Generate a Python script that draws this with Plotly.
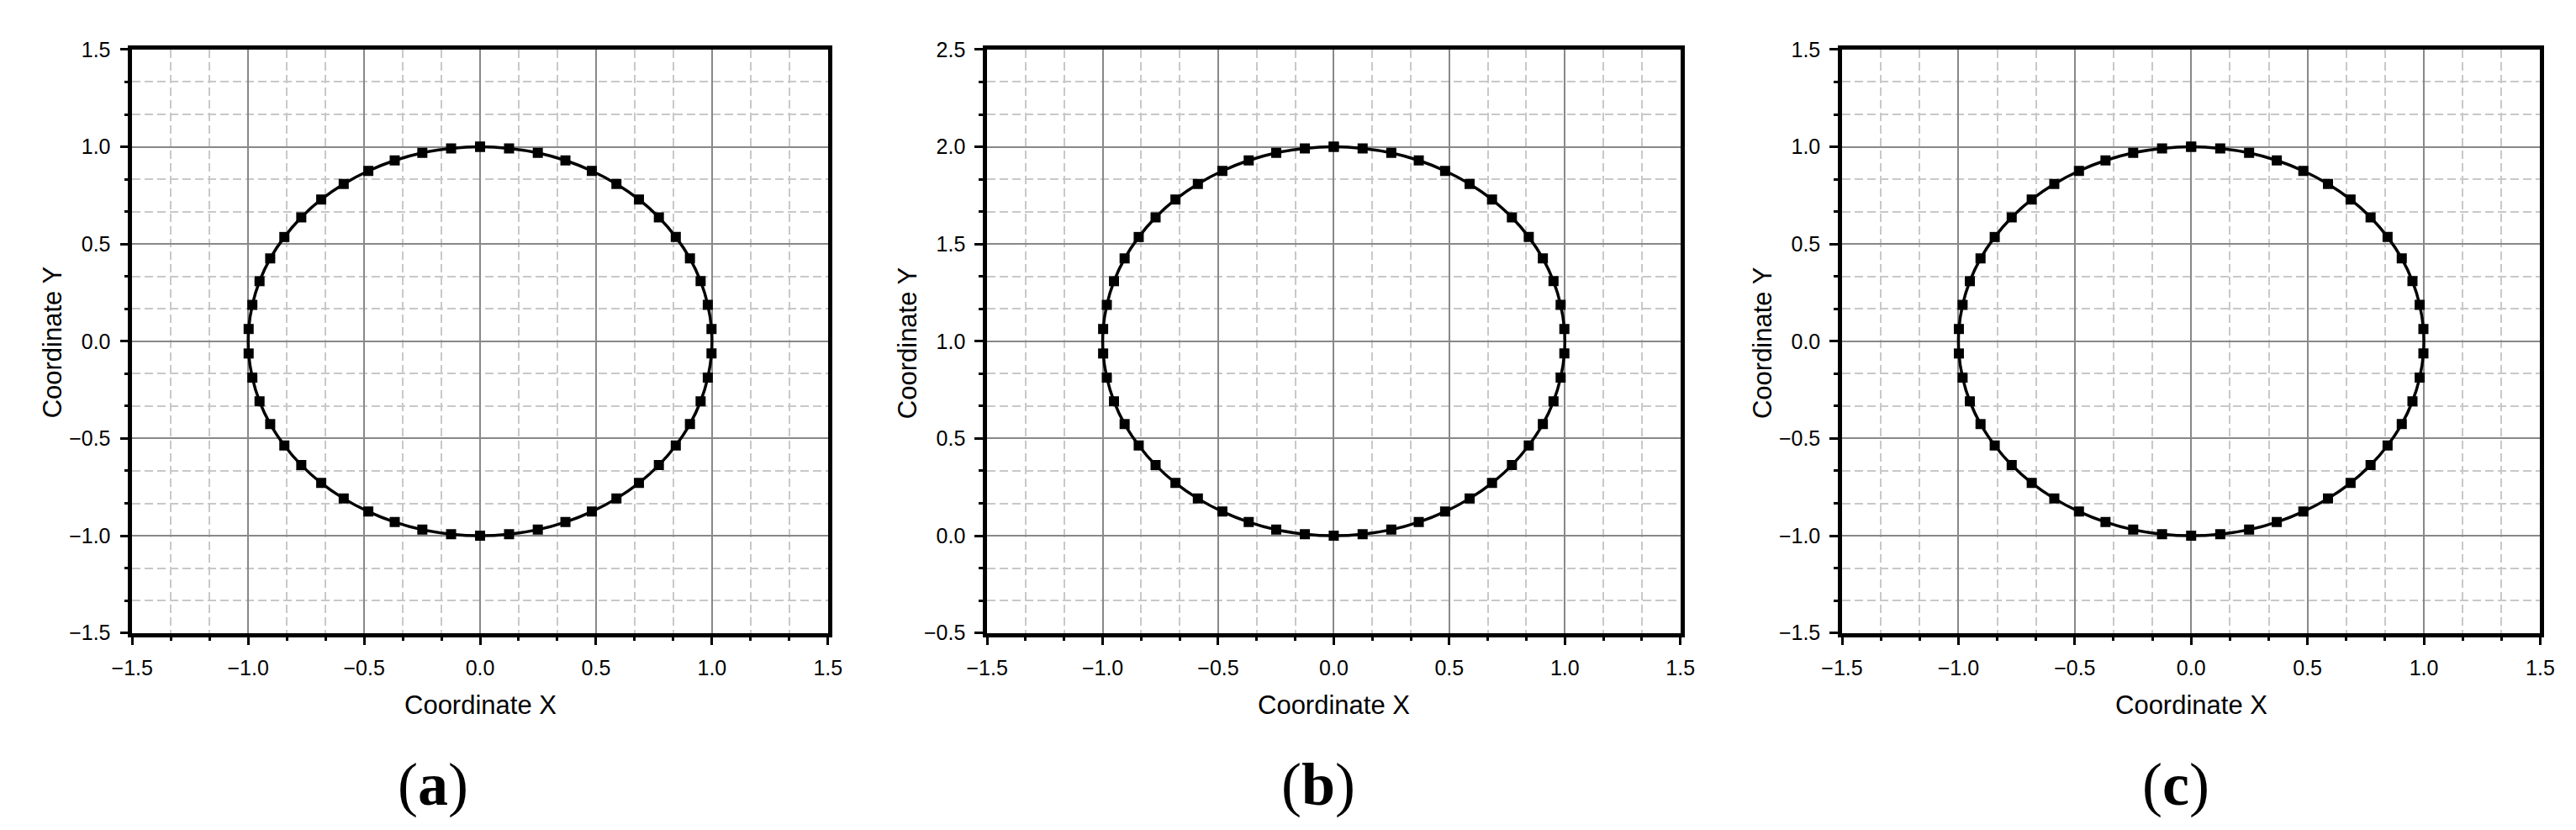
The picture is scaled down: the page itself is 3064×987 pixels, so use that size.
import plotly.graph_objects as go

# ---- data ----
panel_labels = ["a", "b", "c"]
x_tick_labels = ["−1.5", "−1.0", "−0.5", "0.0", "0.5", "1.0", "1.5"]
x_tick_values = [-1.5, -1.0, -0.5, 0.0, 0.5, 1.0, 1.5]
y_tick_values_ac = [-1.5, -1.0, -0.5, 0.0, 0.5, 1.0, 1.5]
y_tick_values_b = [-0.5, 0.0, 0.5, 1.0, 1.5, 2.0, 2.5]

circle_x = [0.000, -0.125, -0.249, -0.368, -0.482, -0.588, -0.685, -0.771, -0.844, -0.905,
            -0.951, -0.982, -0.998, -0.998, -0.982, -0.951, -0.905, -0.844, -0.771, -0.685,
            -0.588, -0.482, -0.368, -0.249, -0.125, 0.000, 0.125, 0.249, 0.368, 0.482,
            0.588, 0.685, 0.771, 0.844, 0.905, 0.951, 0.982, 0.998, 0.998, 0.982,
            0.951, 0.905, 0.844, 0.771, 0.685, 0.588, 0.482, 0.368, 0.249, 0.125, 0.000]
circle_y = [1.000, 0.992, 0.969, 0.930, 0.876, 0.809, 0.729, 0.637, 0.536, 0.426,
            0.309, 0.187, 0.063, -0.063, -0.187, -0.309, -0.426, -0.536, -0.637, -0.729,
            -0.809, -0.876, -0.930, -0.969, -0.992, -1.000, -0.992, -0.969, -0.930, -0.876,
            -0.809, -0.729, -0.637, -0.536, -0.426, -0.309, -0.187, -0.063, 0.063, 0.187,
            0.309, 0.426, 0.536, 0.637, 0.729, 0.809, 0.876, 0.930, 0.969, 0.992, 1.000]
shifted_y = [2.000, 1.992, 1.969, 1.930, 1.876, 1.809, 1.729, 1.637, 1.536, 1.426,
             1.309, 1.187, 1.063, 0.937, 0.813, 0.691, 0.574, 0.464, 0.363, 0.271,
             0.191, 0.124, 0.070, 0.031, 0.008, 0.000, 0.008, 0.031, 0.070, 0.124,
             0.191, 0.271, 0.363, 0.464, 0.574, 0.691, 0.813, 0.937, 1.063, 1.187,
             1.309, 1.426, 1.536, 1.637, 1.729, 1.809, 1.876, 1.930, 1.969, 1.992, 2.000]

series = [
    (circle_x, circle_y, y_tick_values_ac),
    (circle_x, shifted_y, y_tick_values_b),
    (circle_x, circle_y, y_tick_values_ac),
]

# ---- layout geometry ----
W, H = 3064, 987
panel_px = [(126, 965), (1157, 1993), (2188, 3030)]
top_px, bottom_px = 38, 752
label_x_px = [489, 1556, 2591]

SANS = "Arial, 'Liberation Sans', sans-serif"
SERIF = "'Times New Roman', 'Liberation Serif', serif"


def minor_vals(lo, hi):
    step = 0.5 / 3
    n = int(round((hi - lo) / step))
    return [lo + i * step for i in range(n + 1) if i % 3 != 0]


fig = go.Figure()
annotations = []
for i, ((xs, ys, yt), (l, r), lab, lx) in enumerate(zip(series, panel_px, panel_labels, label_x_px)):
    idx = "" if i == 0 else str(i + 1)
    fig.add_trace(go.Scatter(
        x=xs, y=ys, mode="lines+markers",
        line=dict(color="black", width=3.5, shape="spline"),
        marker=dict(symbol="square", size=12, color="black"),
        xaxis="x" + idx, yaxis="y" + idx, showlegend=False,
        hoverinfo="skip",
    ))
    common = dict(
        showline=True, linecolor="black", linewidth=4.5, mirror=True,
        ticks="outside", ticklen=10, tickwidth=3, tickcolor="black",
        showgrid=True, gridcolor="#888888", gridwidth=2,
        zeroline=False,
        tickfont=dict(family=SANS, size=25, color="black"),
        ticklabelstandoff=6,
        tickformat=".1f",
    )
    minor = dict(ticks="outside", ticklen=5, tickwidth=3, tickcolor="black",
                 showgrid=True, gridcolor="#c8c8c8", gridwidth=2, griddash="10px,5px")
    xa = dict(common, domain=[l / W, r / W], range=[x_tick_values[0], x_tick_values[-1]],
              tickvals=x_tick_values, ticktext=x_tick_labels,
              anchor="y" + idx,
              minor=dict(minor, tickvals=minor_vals(x_tick_values[0], x_tick_values[-1])))
    ya = dict(common, domain=[1 - bottom_px / H, 1 - top_px / H], range=[yt[0], yt[-1]],
              tickvals=yt, anchor="x" + idx,
              minor=dict(minor, tickvals=minor_vals(yt[0], yt[-1])))
    fig.update_layout(**{"xaxis" + idx: xa, "yaxis" + idx: ya})

    annotations.append(dict(text="Coordinate X", xref="paper", yref="paper",
                            x=(l + r) / 2 / W, y=1 - 840 / H, xanchor="center", yanchor="middle",
                            showarrow=False, font=dict(family=SANS, size=31, color="black")))
    annotations.append(dict(text="Coordinate Y", xref="paper", yref="paper",
                            x=(l - 96) / W, y=1 - 397 / H, xanchor="center", yanchor="middle",
                            textangle=-90, showarrow=False,
                            font=dict(family=SANS, size=31, color="black")))
    annotations.append(dict(text="(<b>" + lab + "</b>)", xref="paper", yref="paper",
                            x=lx / W, y=1 - 938 / H, xanchor="center", yanchor="middle",
                            showarrow=False, font=dict(family=SERIF, size=72, color="black")))

fig.update_layout(
    width=W, height=H,
    margin=dict(l=0, r=0, t=0, b=0),
    paper_bgcolor="white", plot_bgcolor="white",
    annotations=annotations,
)

fig.write_html("out.html")
